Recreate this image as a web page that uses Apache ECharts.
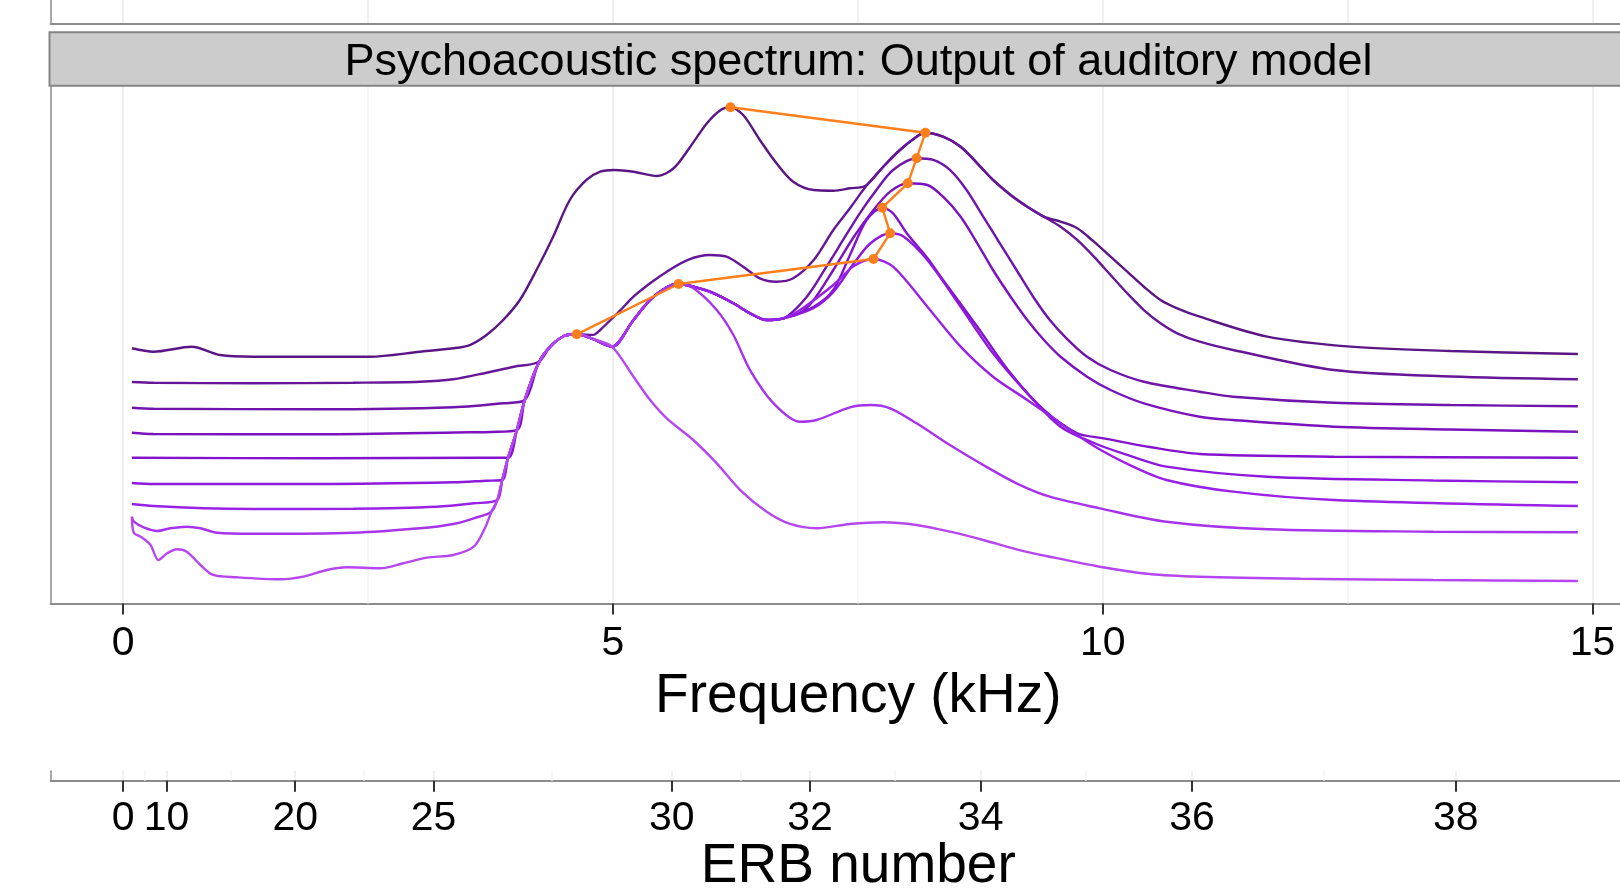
<!DOCTYPE html>
<html lang="en">
<head>
    <meta charset="UTF-8">
    <title>Psychoacoustic spectrum</title>
    <style>
        html, body { margin: 0; padding: 0; background: #fff; }
        #main { width: 1620px; height: 890px; }
    </style>
</head>
<body>
    <div id="main"></div>
    <script src="https://cdn.jsdelivr.net/npm/echarts@6.0.0/dist/echarts.min.js"></script>
    <script>
        // axis ticks
        const freqTicks = [0, 5, 10, 15];
        const freqMinor = [2.5, 7.5, 12.5];
        const erbLabels = ['0', '10', '20', '25', '30', '32', '34', '36', '38'];
        const erbTickKHz = [0, 0.443, 1.757, 3.169, 5.600, 7.013, 8.754, 10.912, 13.604];

        // spectra: [kHz, level], darkest (top) to lightest (bottom)
        const spec1 = [[0.09,49.28],[0.31,48.62],[0.70,49.58],[0.99,47.98],[1.33,47.65],[2.52,47.65],[3.03,48.62],[3.37,49.28],[3.54,49.91],[3.71,51.84],[3.88,54.74],[4.05,58.61],[4.22,64.40],[4.39,70.83],[4.56,77.92],[4.73,81.79],[4.87,83.39],[5.01,83.72],[5.21,83.39],[5.45,82.56],[5.62,84.05],[5.79,88.22],[5.96,92.74],[6.10,95.31],[6.20,95.83],[6.33,94.34],[6.50,89.51],[6.67,85.01],[6.84,81.46],[7.05,79.85],[7.25,79.72],[7.42,80.18],[7.58,80.68],[7.76,84.35],[7.93,87.58],[8.10,90.15],[8.19,90.92],[8.37,90.15],[8.55,88.22],[8.72,85.01],[8.88,81.79],[9.06,78.89],[9.23,76.63],[9.40,74.70],[9.57,73.73],[9.74,72.46],[9.91,69.87],[10.08,66.97],[10.25,64.07],[10.42,61.17],[10.59,58.61],[10.76,57.00],[10.99,55.38],[11.68,51.52],[12.53,49.59],[13.55,48.75],[14.85,48.18]];
        const spec2 = [[0.09,42.77],[0.31,42.63],[1.33,42.52],[2.35,42.63],[3.03,42.82],[3.37,43.29],[3.71,44.56],[3.99,45.72],[4.24,46.63],[4.36,49.59],[4.50,51.65],[4.63,51.98],[4.80,51.86],[4.87,52.81],[5.07,56.50],[5.21,59.24],[5.38,61.83],[5.55,64.07],[5.76,66.33],[5.99,67.30],[6.16,66.97],[6.33,65.04],[6.50,62.80],[6.67,62.14],[6.84,62.80],[7.05,66.33],[7.25,72.13],[7.42,76.32],[7.58,80.49],[7.76,84.35],[7.93,87.58],[8.10,90.15],[8.19,90.92],[8.37,90.15],[8.55,88.22],[8.72,85.01],[8.88,81.79],[9.06,78.89],[9.23,76.63],[9.40,74.70],[9.57,72.76],[9.74,70.20],[9.91,66.97],[10.08,63.43],[10.25,59.90],[10.42,56.67],[10.59,54.10],[10.76,52.17],[10.99,50.55],[11.33,48.95],[12.36,45.08],[13.55,43.83],[14.85,43.29]];
        const spec3 = [[0.09,37.80],[0.31,37.61],[2.01,37.49],[3.37,37.88],[3.88,38.65],[4.10,39.29],[4.24,46.38],[4.36,49.59],[4.50,51.65],[4.63,51.98],[4.80,51.07],[4.99,49.59],[5.21,54.74],[5.38,58.61],[5.55,61.06],[5.67,61.70],[5.82,61.17],[5.99,60.21],[6.23,57.97],[6.40,56.04],[6.57,54.74],[6.74,55.07],[6.98,59.24],[7.18,65.04],[7.35,70.20],[7.52,75.35],[7.69,79.85],[7.86,83.72],[8.10,85.98],[8.27,85.65],[8.44,83.72],[8.61,79.85],[8.78,74.70],[8.95,69.56],[9.12,64.40],[9.29,59.24],[9.46,54.74],[9.63,51.21],[9.84,47.65],[10.08,45.08],[10.42,42.82],[10.99,40.89],[11.33,39.93],[12.36,38.77],[13.55,38.32],[14.85,38.07]];
        const spec4 = [[0.09,32.97],[0.31,32.72],[2.01,32.66],[3.54,33.05],[3.75,33.11],[4.02,33.49],[4.10,39.29],[4.24,46.38],[4.36,49.59],[4.50,51.65],[4.63,51.98],[4.80,51.07],[4.99,49.59],[5.21,54.74],[5.38,58.61],[5.55,61.06],[5.67,61.70],[5.82,61.17],[5.99,60.21],[6.23,57.97],[6.40,56.04],[6.57,54.74],[6.74,55.07],[6.91,56.09],[7.05,58.61],[7.25,64.40],[7.46,70.83],[7.66,75.99],[7.83,79.53],[8.01,81.15],[8.21,80.82],[8.37,78.56],[8.55,74.70],[8.72,69.56],[8.88,64.40],[9.06,59.24],[9.23,54.74],[9.40,50.88],[9.57,47.65],[9.84,43.79],[10.08,41.22],[10.42,38.65],[10.99,36.06],[11.33,35.43],[12.36,34.13],[13.55,33.59],[14.85,33.17]];
        const spec5 = [[0.09,28.14],[2.01,28.03],[3.71,28.14],[3.93,28.14],[4.02,33.49],[4.10,39.29],[4.24,46.38],[4.36,49.59],[4.50,51.65],[4.63,51.98],[4.80,51.07],[4.99,49.59],[5.21,54.74],[5.38,58.61],[5.55,61.06],[5.67,61.70],[5.82,61.17],[5.99,60.21],[6.23,57.97],[6.40,56.04],[6.57,54.74],[6.74,55.07],[7.05,57.31],[7.25,60.54],[7.42,67.30],[7.59,74.06],[7.75,76.43],[7.86,75.35],[8.00,71.49],[8.21,66.72],[8.37,62.47],[8.72,53.45],[9.06,44.45],[9.40,37.36],[9.74,32.86],[10.01,31.89],[10.48,30.21],[10.99,28.86],[12.36,28.34],[14.85,28.14]];
        const spec6 = [[0.09,23.26],[0.31,23.06],[2.01,23.06],[3.37,23.39],[3.71,23.70],[3.87,23.84],[3.93,28.14],[4.02,33.49],[4.10,39.29],[4.24,46.38],[4.36,49.59],[4.50,51.65],[4.63,51.98],[4.80,51.07],[4.99,49.59],[5.21,54.74],[5.38,58.61],[5.55,61.06],[5.67,61.70],[5.82,61.17],[5.99,60.21],[6.23,57.97],[6.40,56.04],[6.57,54.74],[6.74,55.07],[7.05,57.06],[7.25,60.15],[7.46,65.69],[7.63,69.56],[7.83,71.49],[7.97,70.83],[8.21,66.33],[8.55,57.31],[8.88,48.31],[9.23,40.58],[9.57,34.13],[9.91,30.98],[10.25,28.67],[10.65,26.41],[11.68,24.47],[13.37,23.74],[14.85,23.39]];
        const spec7 = [[0.09,19.20],[0.31,18.81],[0.82,18.37],[1.33,18.23],[2.35,18.29],[3.20,18.68],[3.58,19.34],[3.82,19.97],[3.87,23.84],[3.93,28.14],[4.02,33.49],[4.10,39.29],[4.24,46.38],[4.36,49.59],[4.50,51.65],[4.63,51.98],[4.80,51.07],[4.99,49.59],[5.21,54.74],[5.38,58.61],[5.55,61.06],[5.67,61.70],[5.82,61.17],[5.99,60.21],[6.23,57.97],[6.40,56.04],[6.57,54.74],[6.74,55.07],[6.91,56.67],[7.25,61.50],[7.46,65.17],[7.66,66.52],[7.86,65.04],[8.21,57.31],[8.55,49.59],[8.88,43.79],[9.23,39.29],[9.57,34.79],[9.91,30.40],[10.31,26.41],[10.65,23.84],[11.33,21.58],[12.36,19.97],[14.85,18.81]];
        const spec8 = [[0.09,16.75],[0.11,15.78],[0.21,14.70],[0.35,13.99],[0.48,14.51],[0.65,14.82],[0.79,14.51],[0.96,13.66],[1.33,13.46],[2.35,13.66],[3.03,14.51],[3.37,15.34],[3.58,16.44],[3.76,17.71],[3.82,19.97],[3.87,23.84],[3.93,28.14],[4.02,33.49],[4.10,39.29],[4.24,46.38],[4.36,49.59],[4.50,51.65],[4.63,51.98],[4.80,51.07],[4.99,49.59],[5.21,54.74],[5.38,58.61],[5.55,61.06],[5.67,61.70],[5.82,60.92],[6.06,56.67],[6.23,51.84],[6.40,45.08],[6.64,38.65],[6.91,35.10],[7.08,35.43],[7.42,37.88],[7.63,38.32],[7.83,37.69],[8.10,34.79],[8.44,30.60],[8.78,26.73],[9.12,23.20],[9.46,20.61],[9.97,18.37],[10.65,15.78],[11.68,14.31],[13.37,13.85],[14.85,13.73]];
        const spec9 = [[0.09,16.75],[0.11,13.60],[0.18,12.88],[0.28,11.28],[0.36,8.38],[0.45,9.68],[0.55,10.45],[0.65,9.99],[0.79,7.42],[0.92,5.49],[1.16,5.04],[1.60,4.66],[1.84,5.16],[2.08,6.45],[2.28,6.97],[2.62,6.78],[2.86,7.75],[3.10,8.83],[3.37,9.35],[3.58,10.95],[3.70,14.82],[3.76,17.71],[3.82,19.97],[3.87,23.84],[3.93,28.14],[4.02,33.49],[4.10,39.29],[4.24,46.38],[4.36,49.59],[4.50,51.65],[4.63,51.98],[4.80,51.07],[4.99,49.59],[5.21,43.79],[5.38,39.29],[5.55,35.75],[5.82,31.56],[6.06,27.06],[6.30,21.90],[6.57,17.71],[6.81,15.34],[7.08,14.51],[7.42,15.34],[7.76,15.67],[8.10,15.14],[8.44,13.85],[8.78,12.25],[9.12,10.45],[9.46,9.02],[9.97,7.09],[10.48,5.68],[10.99,5.16],[12.02,4.77],[13.37,4.52],[14.85,4.33]];

        const spectra = [spec1, spec2, spec3, spec4, spec5, spec6, spec7, spec8, spec9];
        const lineColors = ['#5b1685', '#661798', '#7015ab', '#7a13bd', '#8413cd', '#8e18dc', '#9a22e6', '#a733ec', '#b647f0'];

        // orange track joins the maximum of each spectrum, bottom to top
        const peakTrack = spectra.slice().reverse().map(s => s.reduce((a, b) => (b[1] > a[1] ? b : a)));

        const allGrid = freqTicks.concat(freqMinor).sort((a, b) => a - b);
        const erbMinor = [];
        for (let i = 1; i < erbTickKHz.length; i++) erbMinor.push((erbTickKHz[i - 1] + erbTickKHz[i]) / 2);

        const FONT = '"Liberation Sans", Arial, Helvetica, sans-serif';
        const X_MIN = -0.74, X_MAX = 15.75;
        const gridLineColor = '#ebebeb';
        const axisGray = '#8c8c8c';

        const myChart = echarts.init(document.getElementById('main'));

        const baseX = {
            type: 'value', min: X_MIN, max: X_MAX,
            axisLine: { show: true, onZero: false, lineStyle: { color: axisGray, width: 2 } },
            splitLine: { show: true, lineStyle: { color: gridLineColor, width: 1.5 } }
        };
        const baseY = {
            type: 'value', min: 0, max: 100,
            axisLine: { show: true, onZero: false, lineStyle: { color: axisGray, width: 1.5 } },
            axisTick: { show: false }, axisLabel: { show: false }, splitLine: { show: false }
        };
        // faint minor grid lines, kept behind the spectra
        const minorLines = (vals, xi) => ({
            type: 'line', xAxisIndex: xi, yAxisIndex: xi, data: [], silent: true, z: 1,
            markLine: {
                silent: true, z: 1, symbol: ['none', 'none'], label: { show: false },
                lineStyle: { color: '#f3f3f3', type: 'solid', width: 1.5 },
                data: vals.map(v => ({ xAxis: v }))
            }
        });

        const option = {
            animation: false,
            backgroundColor: '#fff',
            grid: [
                { left: 50.6, width: 1615.4, top: 0, height: 23.3, outerBoundsMode: 'none' },
                { left: 50.6, width: 1615.4, top: 85.7, height: 517.7, outerBoundsMode: 'none' },
                { left: 50.6, width: 1615.4, top: 771, height: 9.7, outerBoundsMode: 'none' }
            ],
            xAxis: [
                Object.assign({}, baseX, {
                    gridIndex: 0,
                    axisTick: { show: false, customValues: allGrid },
                    axisLabel: { show: false, customValues: allGrid }
                }),
                Object.assign({}, baseX, {
                    gridIndex: 1,
                    axisTick: { show: true, customValues: freqTicks, length: 11, lineStyle: { color: '#333', width: 2 } },
                    axisLabel: { customValues: freqTicks, color: '#000', fontSize: 41, fontFamily: FONT, margin: 20 },
                    name: 'Frequency (kHz)', nameLocation: 'middle', nameGap: 53,
                    nameTextStyle: { color: '#000', fontSize: 55, fontFamily: FONT }
                }),
                Object.assign({}, baseX, {
                    gridIndex: 2,
                    axisTick: { show: true, customValues: erbTickKHz, length: 11, lineStyle: { color: '#333', width: 2 } },
                    axisLabel: {
                        customValues: erbTickKHz, color: '#000', fontSize: 41, fontFamily: FONT, margin: 17,
                        formatter: (val) => {
                            let best = 0;
                            erbTickKHz.forEach((t, i) => { if (Math.abs(t - val) < Math.abs(erbTickKHz[best] - val)) best = i; });
                            return erbLabels[best];
                        }
                    },
                    name: 'ERB number', nameLocation: 'middle', nameGap: 54,
                    nameTextStyle: { color: '#000', fontSize: 55, fontFamily: FONT }
                })
            ],
            yAxis: [
                Object.assign({}, baseY, { gridIndex: 0 }),
                Object.assign({}, baseY, { gridIndex: 1 }),
                Object.assign({}, baseY, { gridIndex: 2 })
            ],
            graphic: [
                {
                    type: 'rect', z: 10,
                    shape: { x: 49.5, y: 32.3, width: 1640, height: 53.4 },
                    style: { fill: '#cccccc', stroke: '#858585', lineWidth: 2 }
                },
                {
                    type: 'text', z: 11, x: 858.5, y: 62.5,
                    style: {
                        text: 'Psychoacoustic spectrum: Output of auditory model',
                        fill: '#000', fontSize: 45, fontFamily: FONT,
                        align: 'center', verticalAlign: 'middle'
                    }
                }
            ],
            series: [
                minorLines(freqMinor, 1),
                minorLines(erbMinor, 2)
            ].concat(spectra.map((s, i) => ({
                type: 'line', xAxisIndex: 1, yAxisIndex: 1, data: s,
                showSymbol: false, smooth: 0.3, silent: true, z: 3,
                lineStyle: { color: lineColors[i], width: 2.4 }
            }))).concat([{
                type: 'line', xAxisIndex: 1, yAxisIndex: 1, data: peakTrack,
                symbol: 'circle', symbolSize: 10, z: 5,
                itemStyle: { color: '#fd7f1c' },
                lineStyle: { color: '#fd7f1c', width: 2.4 }
            }])
        };
        myChart.setOption(option);
    </script>
</body>
</html>
